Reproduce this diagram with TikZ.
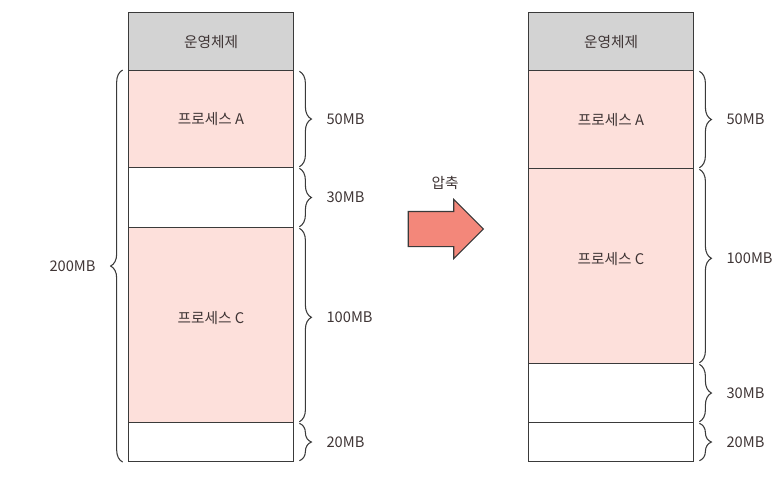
\documentclass[tikz,border=0pt]{standalone}
\usepackage{fontspec}
\setmainfont{Noto Sans CJK KR}
\usepackage{tikz}
\usetikzlibrary{decorations.pathreplacing,shapes.arrows}
\definecolor{osgray}{HTML}{D3D3D3}
\definecolor{procpink}{HTML}{FDE0DB}
\definecolor{arrowred}{HTML}{F3877A}
\definecolor{linegray}{HTML}{3A3A3A}
\definecolor{textgray}{HTML}{3F3535}

\tikzset{
  seg/.style={draw=linegray,line width=0.8pt,anchor=north west,inner sep=0pt,
    minimum width=165*0.75pt,text=textgray,font=\fontsize{11}{13}\selectfont},
  brc/.style={decorate,decoration={brace,amplitude=9pt,raise=4pt},
    line width=0.8pt,linegray},
  sizelbl/.style={text=textgray,font=\fontsize{11}{13}\selectfont,inner sep=0pt}
}

\begin{document}
\begin{tikzpicture}[x=0.75pt,y=-0.75pt]
  \useasboundingbox (0,0) rectangle (782,478);
  % memory before compaction
  \node[seg,fill=osgray,minimum height=58*0.75pt] (os1) at (128,12) {운영체제};
  \node[seg,fill=procpink,minimum height=97*0.75pt] (pa1) at (128,70) {프로세스 A};
  \node[seg,fill=white,minimum height=60*0.75pt] (hole1) at (128,167) {};
  \node[seg,fill=procpink,minimum height=195*0.75pt] (pc1) at (128,227) {};
  \node[sizelbl] at (pc1.center) [yshift=5pt] {프로세스 C};
  \node[seg,fill=white,minimum height=39*0.75pt] (hole2) at (128,422) {};
  \draw[brc] ([yshift=-1pt]pa1.north east) -- ([yshift=1pt]pa1.south east)
    node[midway,sizelbl,right=24pt] {50MB};
  \draw[brc] ([yshift=-1pt]hole1.north east) -- ([yshift=1pt]hole1.south east)
    node[midway,sizelbl,right=24pt] {30MB};
  \draw[brc,decoration={aspect=0.46}] ([yshift=-1pt]pc1.north east) -- ([yshift=1pt]pc1.south east)
    node[pos=0.46,sizelbl,right=24pt] {100MB};
  \draw[brc] ([yshift=-1pt]hole2.north east) -- ([yshift=1pt]hole2.south east)
    node[midway,sizelbl,right=24pt] {20MB};
  \draw[brc] (hole2.south west) -- (pa1.north west)
    node[midway,sizelbl,left=24pt] {200MB};

  % compaction arrow
  \node[single arrow,draw=linegray,line width=0.8pt,fill=arrowred,inner sep=12.75pt,
    minimum height=75*0.75pt,single arrow head extend=9pt] (compress) at (437,229) {};
  \node[sizelbl] (lbl) at (445,183) {압축};

  % memory after compaction
  \node[seg,fill=osgray,minimum height=58*0.75pt] (os2) at (528,12) {운영체제};
  \node[seg,fill=procpink,minimum height=98*0.75pt] (pa2) at (528,70) {프로세스 A};
  \node[seg,fill=procpink,minimum height=195*0.75pt] (pc2) at (528,168) {};
  \node[sizelbl] at (pc2.center) [yshift=5pt] {프로세스 C};
  \node[seg,fill=white,minimum height=59*0.75pt] (hole3) at (528,363) {};
  \node[seg,fill=white,minimum height=39*0.75pt] (hole4) at (528,422) {};
  \draw[brc] ([yshift=-1pt]pa2.north east) -- ([yshift=1pt]pa2.south east)
    node[midway,sizelbl,right=24pt] {50MB};
  \draw[brc,decoration={aspect=0.46}] ([yshift=-1pt]pc2.north east) -- ([yshift=1pt]pc2.south east)
    node[pos=0.46,sizelbl,right=24pt] {100MB};
  \draw[brc] ([yshift=-1pt]hole3.north east) -- ([yshift=1pt]hole3.south east)
    node[midway,sizelbl,right=24pt] {30MB};
  \draw[brc] ([yshift=-1pt]hole4.north east) -- ([yshift=1pt]hole4.south east)
    node[midway,sizelbl,right=24pt] {20MB};
\end{tikzpicture}
\end{document}
